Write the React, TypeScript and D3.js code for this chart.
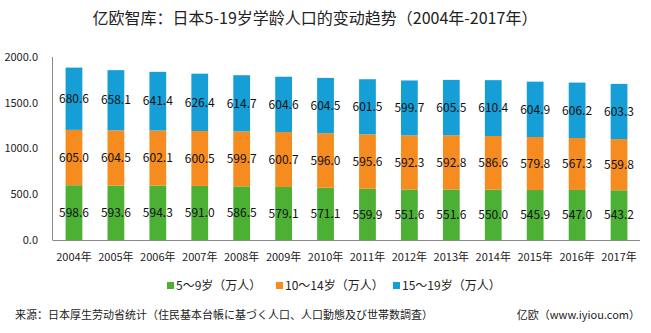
import React from "react";
import * as d3 from "d3";

const years = ["2004年","2005年","2006年","2007年","2008年","2009年","2010年","2011年","2012年","2013年","2014年","2015年","2016年","2017年"];
const age5to9 = [598.6,593.6,594.3,591.0,586.5,579.1,571.1,559.9,551.6,551.6,550.0,545.9,547.0,543.2];
const age10to14 = [605.0,604.5,602.1,600.5,599.7,600.7,596.0,595.6,592.3,592.8,586.6,579.8,567.3,559.8];
const age15to19 = [680.6,658.1,641.4,626.4,614.7,604.6,604.5,601.5,599.7,605.5,610.4,604.9,606.2,603.3];
const seriesNames = ["5～9岁（万人）","10～14岁（万人）","15～19岁（万人）"];
const yTicks = [0, 500, 1000, 1500, 2000];

const colors = ["#4bb034", "#f68c1f", "#169fd6"];
const font = "'Microsoft YaHei','Noto Sans CJK SC','Noto Sans',sans-serif";

export default function App() {
  const W = 651, H = 333;
  const x = d3.scaleBand<string>().domain(years).range([53, 640]).paddingInner(0.6).paddingOuter(0.3);
  const y = d3.scaleLinear().domain([0, 2000]).range([240, 57]);
  const data = years.map((yr, i) => ({ year: yr, a: age5to9[i], b: age10to14[i], c: age15to19[i] }));
  const stack = d3.stack<any>().keys(["a", "b", "c"])(data);
  const legendX = [167, 276, 393];

  return (
    <svg width={W} height={H} style={{ position: "absolute", left: 0, top: 0, fontFamily: font }}>
      <rect width={W} height={H} fill="#fff" />
      <text x={315} y={24} textAnchor="middle" fontSize={16} fill="#222">亿欧智库：日本5-19岁学龄人口的变动趋势（2004年-2017年）</text>
      {yTicks.map(t => (
        <text key={t} x={38} y={y(t)} dy="0.35em" textAnchor="end" fontSize={11} fill="#222">{t.toFixed(1)}</text>
      ))}
      {stack.map((s, si) => (
        <g key={si}>
          {s.map((d, i) => (
            <rect key={i} x={x(years[i])} width={x.bandwidth()} y={y(d[1])} height={y(d[0]) - y(d[1])} fill={colors[si]} />
          ))}
        </g>
      ))}
      {stack.map((s, si) => (
        <g key={"l" + si}>
          {s.map((d, i) => (
            <text key={i} x={(x(years[i]) as number) + x.bandwidth() / 2} y={(y(d[0]) + y(d[1])) / 2} dy="0.35em" textAnchor="middle" fontSize={12} fill="#111">{(d[1] - d[0]).toFixed(1)}</text>
          ))}
        </g>
      ))}
      <line x1={52.5} x2={52.5} y1={57} y2={240} stroke="#888" strokeWidth={1} />
      <line x1={52.5} x2={640} y1={240.5} y2={240.5} stroke="#888" strokeWidth={1} />
      {years.map(yr => (
        <text key={yr} x={(x(yr) as number) + x.bandwidth() / 2} y={257} dy="0.35em" textAnchor="middle" fontSize={11} fill="#222">{yr}</text>
      ))}
      {seriesNames.map((n, i) => (
        <g key={n}>
          <rect x={legendX[i]} y={282} width={7} height={7} fill={colors[i]} />
          <text x={legendX[i] + 9} y={285.5} dy="0.35em" fontSize={12} fill="#222">{n}</text>
        </g>
      ))}
      <text x={15} y={315} dy="0.35em" fontSize={11} fill="#222">来源：日本厚生劳动省统计（住民基本台帳に基づく人口、人口動態及び世帯数調査）</text>
      <text x={640} y={315} dy="0.35em" textAnchor="end" fontSize={11} fill="#222">亿欧（www.iyiou.com）</text>
    </svg>
  );
}
